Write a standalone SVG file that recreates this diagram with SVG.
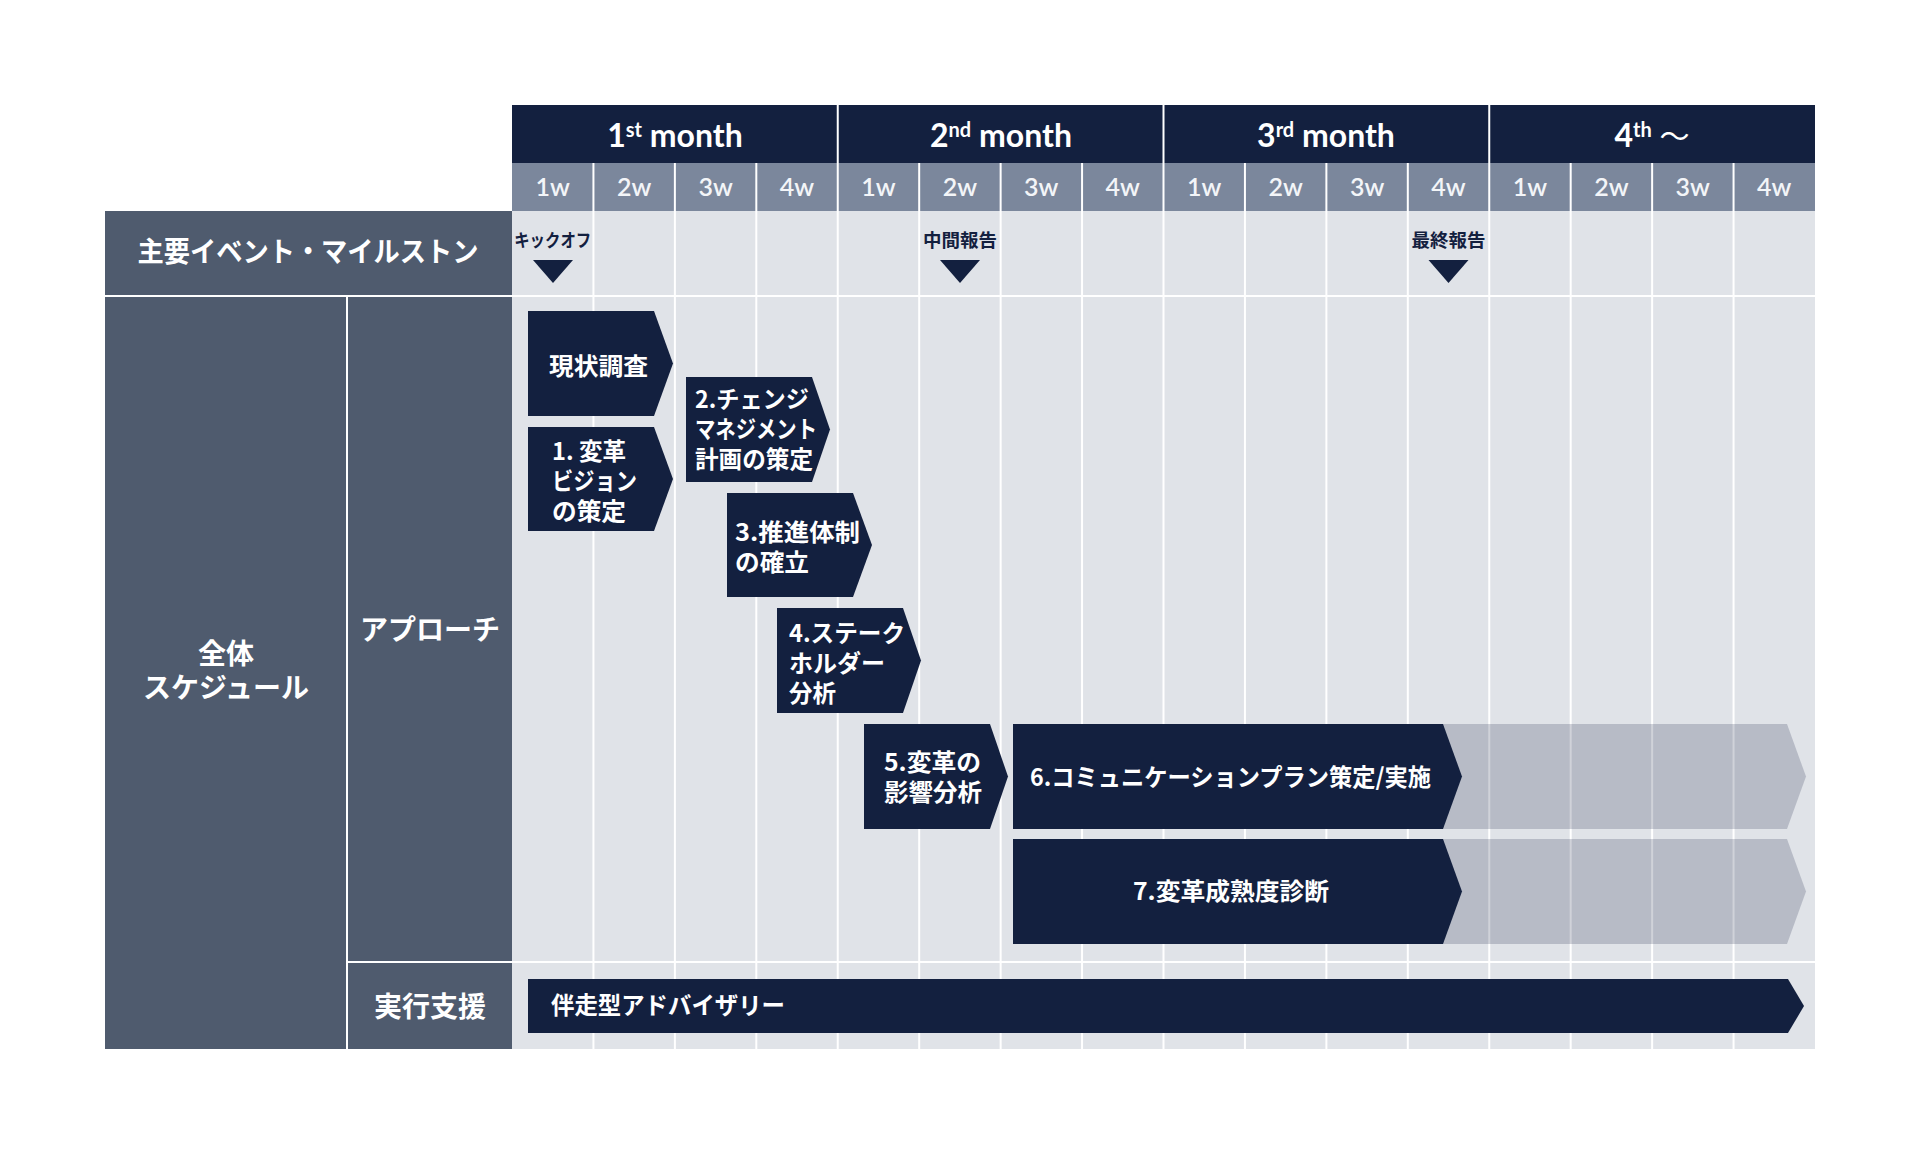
<svg xmlns="http://www.w3.org/2000/svg" width="1920" height="1155" viewBox="0 0 1920 1155">
<defs>
<style>
.navy{fill:#13203f}
.slate{fill:#7b879c}
.panel{fill:#4f5b6e}
.gridbg{fill:#e0e3e8}
.ghost{fill:#13203f;fill-opacity:0.2}
.wl{stroke:#ffffff;stroke-width:2}
.mon{font-family:Lato,"Liberation Sans",sans-serif;font-size:32px;font-weight:700;fill:#ffffff;text-anchor:middle}
.sup{font-size:20px}
.wk{font-family:Lato,"Liberation Sans",sans-serif;font-size:25px;font-weight:600;fill:#f3f5f8;text-anchor:middle}
.lbl{font-family:"Noto Sans CJK JP",sans-serif;font-weight:700;fill:#ffffff;font-size:28px;text-anchor:middle}
.ms{font-family:"Noto Sans CJK JP",sans-serif;font-weight:700;fill:#13203f;font-size:18px;text-anchor:middle}
.bt{font-family:"Noto Sans CJK JP",sans-serif;font-weight:700;fill:#ffffff;font-size:24px}
.tri{fill:#13203f}
</style>
</defs>
<rect width="1920" height="1155" fill="#ffffff"/>

<g id="header">
<rect class="navy" x="512" y="105" width="1303" height="58"/>
<rect class="slate" x="512" y="163" width="1303" height="48"/>
<text class="mon" x="675" y="147">1<tspan class="sup" dy="-10">st</tspan><tspan dy="10"> month</tspan></text>
<text class="mon" x="1001" y="147">2<tspan class="sup" dy="-10">nd</tspan><tspan dy="10"> month</tspan></text>
<text class="mon" x="1326" y="147">3<tspan class="sup" dy="-10">rd</tspan><tspan dy="10"> month</tspan></text>
<text class="mon" x="1652" y="147">4<tspan class="sup" dy="-10">th</tspan><tspan dy="10"> </tspan><tspan font-family="'Noto Sans CJK JP',sans-serif" font-weight="400" font-size="30">～</tspan></text>
<g class="wk">
<text x="552.7" y="196">1w</text><text x="634.2" y="196">2w</text><text x="715.6" y="196">3w</text><text x="797" y="196">4w</text>
<text x="878.5" y="196">1w</text><text x="959.9" y="196">2w</text><text x="1041.3" y="196">3w</text><text x="1122.8" y="196">4w</text>
<text x="1204.2" y="196">1w</text><text x="1285.7" y="196">2w</text><text x="1367.1" y="196">3w</text><text x="1448.5" y="196">4w</text>
<text x="1530" y="196">1w</text><text x="1611.4" y="196">2w</text><text x="1692.8" y="196">3w</text><text x="1774.3" y="196">4w</text>
</g>
</g>

<g id="grid">
<rect class="gridbg" x="512" y="211" width="1303" height="838"/>
<rect class="panel" x="105" y="211" width="407" height="84"/>
<rect class="panel" x="105" y="297" width="407" height="752"/>
<g class="wl">
<line x1="837.75" y1="105" x2="837.75" y2="163"/>
<line x1="1163.5" y1="105" x2="1163.5" y2="163"/>
<line x1="1489.25" y1="105" x2="1489.25" y2="163"/>
<line x1="593.44" y1="163" x2="593.44" y2="1049"/>
<line x1="674.88" y1="163" x2="674.88" y2="1049"/>
<line x1="756.31" y1="163" x2="756.31" y2="1049"/>
<line x1="837.75" y1="163" x2="837.75" y2="1049"/>
<line x1="919.19" y1="163" x2="919.19" y2="1049"/>
<line x1="1000.63" y1="163" x2="1000.63" y2="1049"/>
<line x1="1082.06" y1="163" x2="1082.06" y2="1049"/>
<line x1="1163.5" y1="163" x2="1163.5" y2="1049"/>
<line x1="1244.94" y1="163" x2="1244.94" y2="1049"/>
<line x1="1326.38" y1="163" x2="1326.38" y2="1049"/>
<line x1="1407.81" y1="163" x2="1407.81" y2="1049"/>
<line x1="1489.25" y1="163" x2="1489.25" y2="1049"/>
<line x1="1570.69" y1="163" x2="1570.69" y2="1049"/>
<line x1="1652.13" y1="163" x2="1652.13" y2="1049"/>
<line x1="1733.56" y1="163" x2="1733.56" y2="1049"/>
<line x1="105" y1="296" x2="1815" y2="296"/>
<line x1="347" y1="962" x2="1815" y2="962"/>
<line x1="347" y1="297" x2="347" y2="1049"/>
</g>
</g>

<g id="row-labels">
<text class="lbl" x="308" y="262" font-size="26" textLength="341" lengthAdjust="spacingAndGlyphs">主要イベント・マイルストン</text>
<text class="lbl" x="226" y="664">全体</text>
<text class="lbl" x="226" y="698">スケジュール</text>
<text class="lbl" x="430" y="640">アプローチ</text>
<text class="lbl" x="430" y="1017" font-size="30">実行支援</text>
</g>

<g id="milestones">
<g id="ms-kickoff"><text class="ms" x="552.7" y="247" textLength="77" lengthAdjust="spacingAndGlyphs">キックオフ</text><polygon class="tri" points="533,260 573,260 553,283"/></g>
<g id="ms-mid"><text class="ms" x="959.9" y="247" textLength="74" lengthAdjust="spacingAndGlyphs">中間報告</text><polygon class="tri" points="940,260 980,260 960,283"/></g>
<g id="ms-final"><text class="ms" x="1448.5" y="247" textLength="74" lengthAdjust="spacingAndGlyphs">最終報告</text><polygon class="tri" points="1428.5,260 1468.5,260 1448.5,283"/></g>
</g>

<g id="bar-genjo"><polygon class="navy" points="528,311 654,311 673,363.5 654,416 528,416"/><text class="bt" x="549" y="375" font-size="25" textLength="99" lengthAdjust="spacingAndGlyphs">現状調査</text></g>
<g id="bar-1"><polygon class="navy" points="528,427 654,427 673,479 654,531 528,531"/><text class="bt" x="552" y="460" textLength="74" lengthAdjust="spacingAndGlyphs">1. 変革</text><text class="bt" x="552" y="490" textLength="85" lengthAdjust="spacingAndGlyphs">ビジョン</text><text class="bt" x="552" y="520" textLength="74" lengthAdjust="spacingAndGlyphs">の策定</text></g>
<g id="bar-2"><polygon class="navy" points="686,377 812,377 830,429.5 812,482 686,482"/><text class="bt" x="695" y="408" textLength="114" lengthAdjust="spacingAndGlyphs">2.チェンジ</text><text class="bt" x="695" y="438" textLength="122" lengthAdjust="spacingAndGlyphs">マネジメント</text><text class="bt" x="695" y="468" textLength="118" lengthAdjust="spacingAndGlyphs">計画の策定</text></g>
<g id="bar-3"><polygon class="navy" points="727,493 853,493 872,545 853,597 727,597"/><text class="bt" x="735" y="541" textLength="125" lengthAdjust="spacingAndGlyphs">3.推進体制</text><text class="bt" x="735" y="571" textLength="74" lengthAdjust="spacingAndGlyphs">の確立</text></g>
<g id="bar-4"><polygon class="navy" points="777,608 903,608 921,660.5 903,713 777,713"/><text class="bt" x="789" y="642" textLength="116" lengthAdjust="spacingAndGlyphs">4.ステーク</text><text class="bt" x="789" y="672" textLength="96" lengthAdjust="spacingAndGlyphs">ホルダー</text><text class="bt" x="789" y="702" textLength="47" lengthAdjust="spacingAndGlyphs">分析</text></g>
<g id="bar-5"><polygon class="navy" points="864,724 990,724 1008,776.5 990,829 864,829"/><text class="bt" x="884" y="771" textLength="97" lengthAdjust="spacingAndGlyphs">5.変革の</text><text class="bt" x="884" y="801" textLength="98" lengthAdjust="spacingAndGlyphs">影響分析</text></g>
<g id="bar-6"><polygon class="ghost" points="1013,724 1787,724 1806,776.5 1787,829 1013,829"/><polygon class="navy" points="1013,724 1443,724 1462,776.5 1443,829 1013,829"/><text class="bt" x="1030" y="786" textLength="401" lengthAdjust="spacingAndGlyphs">6.コミュニケーションプラン策定/実施</text></g>
<g id="bar-7"><polygon class="ghost" points="1013,839 1787,839 1806,891.5 1787,944 1013,944"/><polygon class="navy" points="1013,839 1443,839 1462,891.5 1443,944 1013,944"/><text class="bt" x="1133" y="900" textLength="196" lengthAdjust="spacingAndGlyphs">7.変革成熟度診断</text></g>
<g id="bar-advisory"><polygon class="navy" points="528,979 1788,979 1804,1006 1788,1033 528,1033"/><text class="bt" x="551" y="1014" font-weight="500" font-size="23" textLength="234" lengthAdjust="spacingAndGlyphs">伴走型アドバイザリー</text></g>
</svg>
